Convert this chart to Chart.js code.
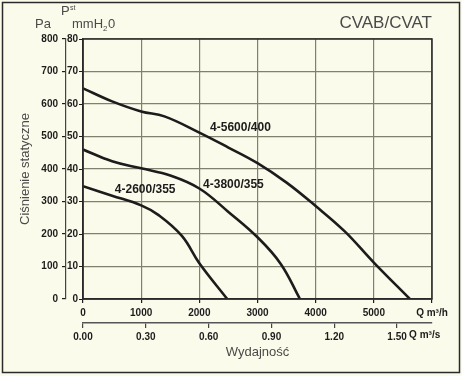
<!DOCTYPE html>
<html>
<head>
<meta charset="utf-8">
<script src="https://cdn.jsdelivr.net/npm/chart.js@4/dist/chart.umd.min.js"></script>
<style>
  html, body { margin: 0; padding: 0; background: #fbfbeb; }
  #wrap { width: 462px; height: 376px; position: relative; }
</style>
</head>
<body>
<div id="wrap"><canvas id="fan-chart" width="462" height="376"></canvas></div>
<script>
// airflow Q [m3/h] and static pressure [Pa]
const q5600 = [0, 500, 1000, 1400, 2000, 2500, 3000, 3500, 4000, 4500, 5000, 5620];
const p5600 = [648, 608, 577, 562, 512, 466, 418, 358, 286, 208, 112, 0];
const q3800 = [0, 500, 1000, 1500, 2000, 2500, 3000, 3400, 3730];
const p3800 = [460, 424, 402, 380, 340, 268, 190, 108, 0];
const q2600 = [0, 500, 1000, 1300, 1700, 2000, 2480];
const p2600 = [347, 318, 288, 258, 194, 110, 0];

const curveNames = ['4-5600/400', '4-3800/355', '4-2600/355'];
const labelQ = [2707, 2586, 1069];
const labelP = [526, 351, 335];

const qTicks = [0, 1000, 2000, 3000, 4000, 5000, 6000];
const qsTicks = [0, 0.3, 0.6, 0.9, 1.2, 1.5];

const tickFont = { family: '"Liberation Sans Narrow", "Liberation Sans", Arial', size: 10, weight: 'bold' };
const textFont = '"Liberation Sans", Arial, sans-serif';
const ink = '#1c1c1c';
const gridCol = '#80806e';

function toPoints(xs, ys) {
    return xs.map((x, i) => ({ x: x, y: ys[i] }));
}

function curve(xs, ys) {
    return {
        data: toPoints(xs, ys),
        xAxisID: 'x',
        yAxisID: 'y',
        borderColor: ink,
        borderWidth: 2.6,
        pointRadius: 0,
        fill: false,
        tension: 0.4
    };
}

const extras = {
    id: 'extras',
    beforeDraw(chart) {
        const c = chart.ctx;
        c.save();
        c.fillStyle = '#fbfbeb';
        c.fillRect(0, 0, chart.width, chart.height);
        c.strokeStyle = '#2a2a2a';
        c.lineWidth = 1.5;
        c.strokeRect(2.5, 2.5, 457, 370);
        c.restore();
    },
    afterDraw(chart) {
        const c = chart.ctx;
        const xs = chart.scales.x, ys = chart.scales.y, x2 = chart.scales.x2;
        c.save();
        // plot frame
        const a = chart.chartArea;
        c.strokeStyle = '#2a2a2a';
        c.lineWidth = 1.5;
        c.strokeRect(a.left, a.top, a.right - a.left, a.bottom - a.top);

        // curve names
        c.fillStyle = ink;
        c.font = 'bold 12px "Liberation Sans Narrow", "Liberation Sans", Arial';
        c.textAlign = 'center';
        c.textBaseline = 'middle';
        curveNames.forEach((name, i) => {
            c.fillText(name, xs.getPixelForValue(labelQ[i]), ys.getPixelForValue(labelP[i]));
        });

        // headings
        c.fillStyle = '#4a4a4a';
        c.textBaseline = 'alphabetic';
        c.textAlign = 'right';
        c.font = '17px ' + textFont;
        c.fillText('CVAB/CVAT', 432, 28);

        c.textAlign = 'left';
        c.font = '13px ' + textFont;
        c.fillText('Pa', 35, 28);
        c.fillText('P', 61, 15);
        c.font = '7px ' + textFont;
        c.fillText('st', 70, 10);
        c.font = '13px ' + textFont;
        c.fillText('mmH', 72, 28);
        let w = c.measureText('mmH').width;
        c.font = '8px ' + textFont;
        c.fillText('2', 72 + w, 31);
        c.font = '13px ' + textFont;
        c.fillText('0', 72 + w + 5, 28);

        // unit label at the end of the m3/s axis
        c.fillStyle = ink;
        c.font = 'bold 10px "Liberation Sans Narrow", "Liberation Sans", Arial';
        c.textAlign = 'left';
        c.textBaseline = 'middle';
        c.fillText('Q m³/s', x2.getPixelForValue(1.5) + 12, 335);
        c.restore();
    }
};

new Chart(document.getElementById('fan-chart'), {
    type: 'line',
    data: {
        datasets: [curve(q5600, p5600), curve(q3800, p3800), curve(q2600, p2600)]
    },
    options: {
        responsive: false,
        animation: false,
        layout: { padding: { left: 14, right: 30, top: 39, bottom: 16 } },
        plugins: { legend: { display: false }, tooltip: { enabled: false } },
        scales: {
            x: {
                type: 'linear',
                position: 'bottom',
                min: 0, max: 6000,
                afterBuildTicks: s => { s.ticks = qTicks.map(v => ({ value: v })); },
                afterFit: s => { s.height = 24; },
                grid: { color: gridCol, lineWidth: 1.2, tickLength: 4, tickColor: ink },
                border: { color: '#2a2a2a', width: 1.5 },
                ticks: {
                    color: ink, font: tickFont, padding: 4, maxRotation: 0,
                    callback: v => v === 6000 ? 'Q m³/h' : String(v)
                }
            },
            x2: {
                type: 'linear',
                position: 'bottom',
                min: 0, max: 6000 / 3600,
                afterBuildTicks: s => { s.ticks = qsTicks.map(v => ({ value: v })); },
                afterFit: s => { s.height = 37; },
                grid: { drawOnChartArea: false, tickLength: 5, tickColor: '#444', lineWidth: 1.2 },
                border: { color: '#555', width: 1.5 },
                ticks: {
                    color: ink, font: tickFont, padding: 3, maxRotation: 0,
                    callback: v => v.toFixed(2)
                },
                title: {
                    display: true, text: 'Wydajność', color: '#4a4a4a',
                    font: { family: textFont, size: 13 }, padding: { top: 2, bottom: 0 }
                }
            },
            ymm: {
                type: 'linear',
                position: 'left',
                weight: 0,
                min: 0, max: 80,
                afterBuildTicks: s => {
                    const t = [];
                    for (let v = 0; v <= 80; v += 10) t.push({ value: v });
                    s.ticks = t;
                },
                afterFit: s => { s.width = 17; },
                grid: { drawOnChartArea: false, tickLength: 4, tickColor: ink },
                border: { color: '#2a2a2a', width: 1.5 },
                ticks: { color: ink, font: tickFont, padding: 1 }
            },
            y: {
                type: 'linear',
                position: 'left',
                weight: 1,
                min: 0, max: 800,
                afterBuildTicks: s => {
                    const t = [];
                    for (let v = 0; v <= 800; v += 100) t.push({ value: v });
                    s.ticks = t;
                },
                afterFit: s => { s.width = 52; },
                grid: { color: gridCol, lineWidth: 1.2, tickLength: 4, tickColor: ink },
                border: { color: '#444', width: 1.2 },
                ticks: { color: ink, font: tickFont, padding: 4 },
                title: {
                    display: true, text: 'Ciśnienie statyczne', color: '#4a4a4a',
                    font: { family: textFont, size: 13 }, padding: { top: 4, bottom: 0 }
                }
            }
        }
    },
    plugins: [extras]
});
</script>
</body>
</html>
